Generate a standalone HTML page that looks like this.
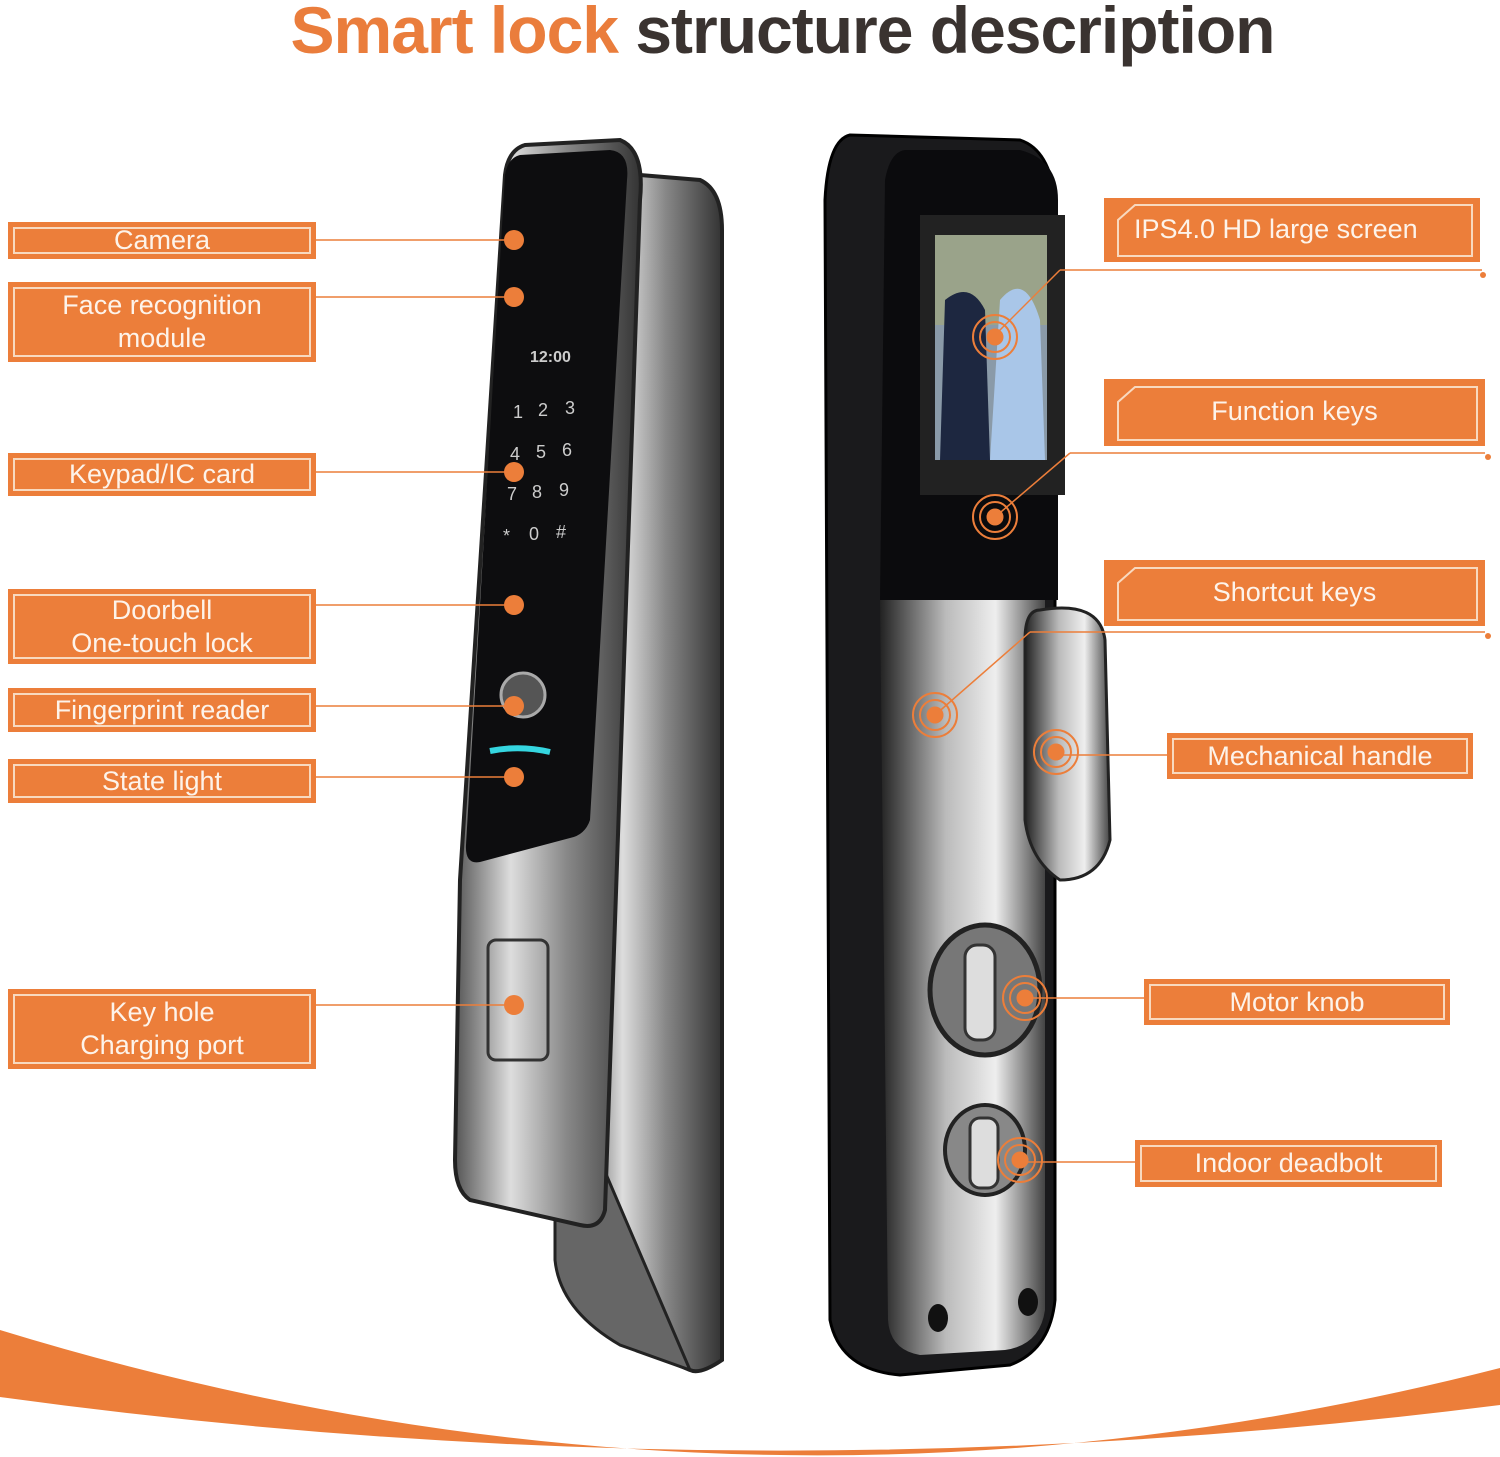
<!DOCTYPE html>
<html><head><meta charset="utf-8"><style>
html,body{margin:0;padding:0;background:#fff;}
body{width:1500px;height:1457px;position:relative;overflow:hidden;font-family:"Liberation Sans",sans-serif;}
.t{position:absolute;top:-8px;left:0;width:1565px;text-align:center;font-size:66px;font-weight:bold;letter-spacing:-1px;color:#3a3330;}
.t span{color:#ea7d3c;}
.b{position:absolute;background:#ec7e3a;color:#fdf3ea;font-size:27px;text-align:center;box-sizing:border-box;}
.b i{position:absolute;left:5px;right:5px;top:5px;bottom:5px;border:2px solid #f8d9bf;font-style:normal;display:flex;align-items:center;justify-content:center;line-height:33px;}
.r i{clip-path:none;}
svg{position:absolute;left:0;top:0;}
</style></head><body>
<svg width="1500" height="1457" viewBox="0 0 1500 1457">
<defs>
<linearGradient id="sil" x1="0" x2="1"><stop offset="0" stop-color="#555"/><stop offset=".3" stop-color="#ddd"/><stop offset=".6" stop-color="#888"/><stop offset="1" stop-color="#333"/></linearGradient>
<linearGradient id="sil2" x1="0" x2="1"><stop offset="0" stop-color="#222"/><stop offset=".4" stop-color="#bbb"/><stop offset=".7" stop-color="#eee"/><stop offset="1" stop-color="#444"/></linearGradient>
</defs>
<!-- bottom swoosh -->
<path d="M0 1330 Q750 1560 1500 1368 L1500 1405 Q750 1500 0 1397 Z" fill="#ec7e3a"/>
<!-- left lock back handle -->
<path d="M640 175 L700 180 Q722 190 722 230 L722 1360 Q700 1375 690 1370 L620 1340 Q580 1300 580 1230 L585 1100 L600 1000 L615 600 Z" fill="url(#sil)" stroke="#222" stroke-width="4"/>
<path d="M555 1150 L600 1160 L690 1370 L620 1345 Q560 1310 555 1260 Z" fill="#666" stroke="#222" stroke-width="3"/>
<!-- left front panel -->
<path d="M525 145 L620 140 Q645 150 640 200 L605 1210 Q600 1230 580 1225 L470 1200 Q455 1190 455 1160 L460 880 L505 175 Q508 150 525 145 Z" fill="url(#sil)" stroke="#222" stroke-width="4"/>
<path d="M520 155 L610 150 Q630 152 627 180 L590 820 Q585 835 570 838 L480 862 Q465 865 466 845 L505 175 Q508 158 520 155 Z" fill="#0d0d0f"/>
<rect x="488" y="940" width="60" height="120" rx="8" fill="none" stroke="#333" stroke-width="3"/>
<path d="M490 751 Q520 745 550 752" stroke="#35d6e0" stroke-width="6" fill="none"/>
<circle cx="523" cy="695" r="22" fill="#555" stroke="#aaa" stroke-width="3"/>
<g fill="#ccc" font-size="18" font-family="Liberation Sans">
<text x="513" y="418">1</text><text x="538" y="416">2</text><text x="565" y="414">3</text>
<text x="510" y="460">4</text><text x="536" y="458">5</text><text x="562" y="456">6</text>
<text x="507" y="500">7</text><text x="532" y="498">8</text><text x="559" y="496">9</text>
<text x="503" y="542">*</text><text x="529" y="540">0</text><text x="556" y="538">#</text>
<text x="530" y="362" font-size="16" font-weight="bold">12:00</text></g>
<!-- right lock -->
<path d="M850 135 L1020 140 Q1050 150 1055 200 L1055 1300 Q1050 1350 1010 1365 L900 1375 Q840 1370 830 1320 L825 200 Q828 140 850 135 Z" fill="#1a1a1c" stroke="#000" stroke-width="3"/>
<path d="M880 600 L1045 600 L1045 1310 Q1040 1345 1005 1350 L920 1355 Q890 1350 888 1320 Z" fill="url(#sil2)"/>
<path d="M905 150 L1020 150 Q1058 160 1058 200 L1058 600 L880 600 L885 180 Q890 152 905 150 Z" fill="#0b0b0d"/>
<rect x="920" y="215" width="145" height="280" fill="#222"/>
<rect x="935" y="235" width="112" height="225" fill="#8a9aa8"/>
<rect x="935" y="235" width="112" height="90" fill="#9aa38a"/>
<path d="M940 460 L945 300 Q970 280 985 310 L990 460 Z" fill="#1d2740"/>
<path d="M990 460 L1000 300 Q1025 270 1040 320 L1045 460 Z" fill="#a9c6e8"/>
<path d="M1040 610 Q1100 600 1105 640 L1110 840 Q1100 880 1060 880 Q1030 860 1025 820 L1025 640 Q1025 610 1040 610 Z" fill="url(#sil2)" stroke="#222" stroke-width="3"/>
<ellipse cx="985" cy="990" rx="55" ry="65" fill="#777" stroke="#222" stroke-width="5"/>
<rect x="965" y="945" width="30" height="95" rx="12" fill="#ddd" stroke="#333" stroke-width="3"/>
<ellipse cx="985" cy="1150" rx="40" ry="45" fill="#888" stroke="#222" stroke-width="4"/>
<rect x="970" y="1118" width="28" height="70" rx="10" fill="#ddd" stroke="#333" stroke-width="3"/>
<ellipse cx="938" cy="1318" rx="10" ry="14" fill="#111"/><ellipse cx="1028" cy="1302" rx="10" ry="14" fill="#111"/>
<!-- connectors left -->
<g stroke="#ec7e3a" stroke-width="1.5">
<line x1="316" y1="240" x2="514" y2="240"/><line x1="316" y1="297" x2="514" y2="297"/>
<line x1="316" y1="472" x2="514" y2="472"/><line x1="316" y1="605" x2="514" y2="605"/>
<line x1="316" y1="706" x2="514" y2="706"/><line x1="316" y1="777" x2="514" y2="777"/>
<line x1="316" y1="1005" x2="514" y2="1005"/>
<line x1="1060" y1="270" x2="1482" y2="270"/><line x1="995" y1="335" x2="1060" y2="270"/>
<line x1="1070" y1="453" x2="1485" y2="453"/><line x1="995" y1="517" x2="1070" y2="453"/>
<line x1="1030" y1="632" x2="1485" y2="632"/><line x1="935" y1="715" x2="1030" y2="632"/>
<line x1="1056" y1="755" x2="1167" y2="755"/><line x1="1025" y1="998" x2="1144" y2="998"/>
<line x1="1020" y1="1162" x2="1135" y2="1162"/>
</g>
<g fill="#ec7e3a">
<circle cx="514" cy="240" r="10"/><circle cx="514" cy="297" r="10"/><circle cx="514" cy="472" r="10"/>
<circle cx="514" cy="605" r="10"/><circle cx="514" cy="706" r="10"/><circle cx="514" cy="777" r="10"/>
<circle cx="514" cy="1005" r="10"/>
<circle cx="1483" cy="275" r="3"/><circle cx="1488" cy="457" r="3"/><circle cx="1488" cy="636" r="3"/>
</g>
<g fill="#ec7e3a" stroke="#ec7e3a">
<circle cx="995" cy="337" r="8"/><circle cx="995" cy="517" r="8"/><circle cx="935" cy="715" r="8"/>
<circle cx="1056" cy="752" r="8"/><circle cx="1025" cy="998" r="8"/><circle cx="1020" cy="1160" r="8"/>
</g>
<g fill="none" stroke="#ec7e3a" stroke-width="2">
<circle cx="995" cy="337" r="15"/><circle cx="995" cy="337" r="22"/>
<circle cx="995" cy="517" r="15"/><circle cx="995" cy="517" r="22"/>
<circle cx="935" cy="715" r="15"/><circle cx="935" cy="715" r="22"/>
<circle cx="1056" cy="752" r="15"/><circle cx="1056" cy="752" r="22"/>
<circle cx="1025" cy="998" r="15"/><circle cx="1025" cy="998" r="22"/>
<circle cx="1020" cy="1160" r="15"/><circle cx="1020" cy="1160" r="22"/>
</g>
<!-- right box cut corners -->
<g fill="none" stroke="#f8d9bf" stroke-width="2">
<path d="M1118 258 L1118 220 L1135 205 L1472 205 L1472 258 Z"/>
<path d="M1118 440 L1118 402 L1135 387 L1477 387 L1477 440 Z"/>
<path d="M1118 620 L1118 583 L1135 568 L1477 568 L1477 620 Z"/>
</g>
</svg>
<div class="t"><span>Smart lock</span> structure description</div>
<div class="b" style="left:8px;top:222px;width:308px;height:37px"><i>Camera</i></div>
<div class="b" style="left:8px;top:282px;width:308px;height:80px"><i>Face recognition<br>module</i></div>
<div class="b" style="left:8px;top:453px;width:308px;height:43px"><i>Keypad/IC card</i></div>
<div class="b" style="left:8px;top:589px;width:308px;height:75px"><i>Doorbell<br>One-touch lock</i></div>
<div class="b" style="left:8px;top:688px;width:308px;height:44px"><i>Fingerprint reader</i></div>
<div class="b" style="left:8px;top:759px;width:308px;height:44px"><i>State light</i></div>
<div class="b" style="left:8px;top:989px;width:308px;height:80px"><i>Key hole<br>Charging port</i></div>
<div class="b" style="left:1104px;top:198px;width:376px;height:64px;z-index:-0"><span style="position:absolute;left:30px;top:16px">IPS4.0 HD large screen</span></div>
<div class="b" style="left:1104px;top:379px;width:381px;height:67px"><span style="position:absolute;left:0;right:0;top:17px">Function keys</span></div>
<div class="b" style="left:1104px;top:560px;width:381px;height:66px"><span style="position:absolute;left:0;right:0;top:17px">Shortcut keys</span></div>
<div class="b" style="left:1167px;top:733px;width:306px;height:46px"><i>Mechanical handle</i></div>
<div class="b" style="left:1144px;top:979px;width:306px;height:46px"><i>Motor knob</i></div>
<div class="b" style="left:1135px;top:1140px;width:307px;height:47px"><i>Indoor deadbolt</i></div>
<svg width="1500" height="1457" style="pointer-events:none">
<g fill="none" stroke="#f8d9bf" stroke-width="2">
<path d="M1118 256 L1118 220 L1135 205 L1472 205 L1472 256 Z"/>
<path d="M1118 440 L1118 402 L1135 387 L1477 387 L1477 440 Z"/>
<path d="M1118 620 L1118 583 L1135 568 L1477 568 L1477 620 Z"/>
</g></svg>
</body></html>
